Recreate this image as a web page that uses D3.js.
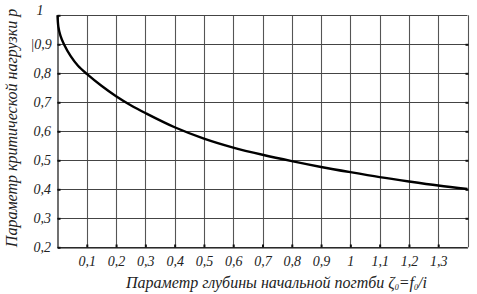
<!DOCTYPE html>
<html>
<head>
<meta charset="utf-8">
<script src="https://cdn.jsdelivr.net/npm/d3@7"></script>
<style>
body { margin: 0; background: #fff; }
svg text { font-family: "Liberation Serif", "DejaVu Serif", serif; font-style: italic; fill: #222; }
</style>
</head>
<body>
<div id="chart"></div>
<script>
// curve: zeta0 -> p
var zeta = [0, 0.003, 0.01, 0.022, 0.045, 0.07, 0.1, 0.15, 0.2, 0.25, 0.3, 0.4, 0.5, 0.6, 0.7, 0.8, 0.9, 1.0, 1.1, 1.2, 1.3, 1.4];
var pval = [1, 0.96, 0.93, 0.9, 0.859, 0.826, 0.798, 0.757, 0.721, 0.69, 0.663, 0.614, 0.575, 0.544, 0.519, 0.497, 0.477, 0.459, 0.442, 0.427, 0.413, 0.401];

var xTicks = [0.1, 0.2, 0.3, 0.4, 0.5, 0.6, 0.7, 0.8, 0.9, 1, 1.1, 1.2, 1.3];
var xTickLabels = ["0,1", "0,2", "0,3", "0,4", "0,5", "0,6", "0,7", "0,8", "0,9", "1", "1,1", "1,2", "1,3"];
var yTicks = [0.2, 0.3, 0.4, 0.5, 0.6, 0.7, 0.8, 0.9, 1];
var yTickLabels = ["0,2", "0,3", "0,4", "0,5", "0,6", "0,7", "0,8", "|0,9", "1"];

var xTitle = "Параметр глубины начальной погтби ";
var yTitle = "Параметр критической нагрузки р";

var w = 477, h = 294;

var svg = d3.select("#chart").append("svg")
	.attr("width", w)
	.attr("height", h);

var xscale = d3.scaleLinear().domain([0, 1.4]).range([57.5, 467.5]);
var yscale = d3.scaleLinear().domain([0.2, 1]).range([247.3, 15.3]);

// grid
svg.append("g").selectAll("line.v")
	.data(xTicks.concat([1.4]))
	.enter().append("line")
	.attr("x1", function(d) { return Math.round(xscale(d)) + 0.5; })
	.attr("x2", function(d) { return Math.round(xscale(d)) + 0.5; })
	.attr("y1", yscale(1))
	.attr("y2", yscale(0.2))
	.attr("stroke", "#555")
	.attr("stroke-width", 1.1);

svg.append("g").selectAll("line.h")
	.data(yTicks)
	.enter().append("line")
	.attr("x1", xscale(0))
	.attr("x2", xscale(1.4))
	.attr("y1", function(d) { return Math.round(yscale(d)) + 0.5; })
	.attr("y2", function(d) { return Math.round(yscale(d)) + 0.5; })
	.attr("stroke", "#444")
	.attr("stroke-width", 1);

// axes
var xaxis = d3.axisBottom(xscale)
	.tickValues(xTicks)
	.tickSizeInner(-3)
	.tickSizeOuter(0)
	.tickPadding(9)
	.tickFormat(function(d, i) { return xTickLabels[i]; });

var yaxis = d3.axisLeft(yscale)
	.tickValues(yTicks)
	.tickSizeInner(-3)
	.tickSizeOuter(0)
	.tickPadding(8)
	.tickFormat(function(d, i) { return yTickLabels[i]; });

var gx = svg.append("g")
	.attr("transform", "translate(0," + (Math.round(yscale(0.2)) + 0.5) + ")")
	.call(xaxis);

var gy = svg.append("g")
	.attr("transform", "translate(" + (Math.round(xscale(0)) - 0.5) + ",0)")
	.call(yaxis);

// little marks on the right edge
svg.append("g")
	.attr("transform", "translate(" + (Math.round(xscale(1.4)) + 0.5) + ",0)")
	.call(d3.axisRight(yscale).tickValues(yTicks.slice(1, 8)).tickSizeInner(-3).tickSizeOuter(0).tickFormat(""))
	.select(".domain").remove();

svg.selectAll(".domain").attr("stroke", "#111").attr("stroke-width", 1.2);
svg.selectAll(".tick line").attr("stroke", "#111").attr("stroke-width", 2);

svg.selectAll("g").attr("font-family", null);

gx.selectAll(".tick text")
	.attr("font-size", 14)
	.attr("fill", "#222");

gy.selectAll(".tick text")
	.attr("font-size", 14)
	.attr("fill", "#222")
	.attr("text-anchor", "start")
	.attr("x", function(d, i) { return yTickLabels[i].charAt(0) == "|" ? -27 : (d == 1 ? -21 : -24); })
	.attr("dy", function(d) { return d == 1 ? "-0.05em" : "0.32em"; });

// curve
var pts = zeta.map(function(z, i) { return [z, pval[i]]; });
var line = d3.line()
	.x(function(d) { return xscale(d[0]); })
	.y(function(d) { return yscale(d[1]); })
	.curve(d3.curveCatmullRom.alpha(0.5));

svg.append("path")
	.datum(pts)
	.attr("d", line)
	.attr("fill", "none")
	.attr("stroke", "#000")
	.attr("stroke-width", 2.4);

// titles
var xt = svg.append("text")
	.attr("x", 126)
	.attr("y", 288)
	.attr("font-size", 16);
xt.append("tspan").text(xTitle);
xt.append("tspan").text("ζ");
xt.append("tspan").attr("font-size", 8).attr("dy", 2).text("0");
xt.append("tspan").attr("dy", -2).text("=f");
xt.append("tspan").attr("font-size", 8).attr("dy", 2).text("0");
xt.append("tspan").attr("dy", -2).text("/i");

svg.append("text")
	.attr("transform", "translate(17,128) rotate(-90)")
	.attr("text-anchor", "middle")
	.attr("font-size", 16)
	.text(yTitle);
</script>
</body>
</html>
